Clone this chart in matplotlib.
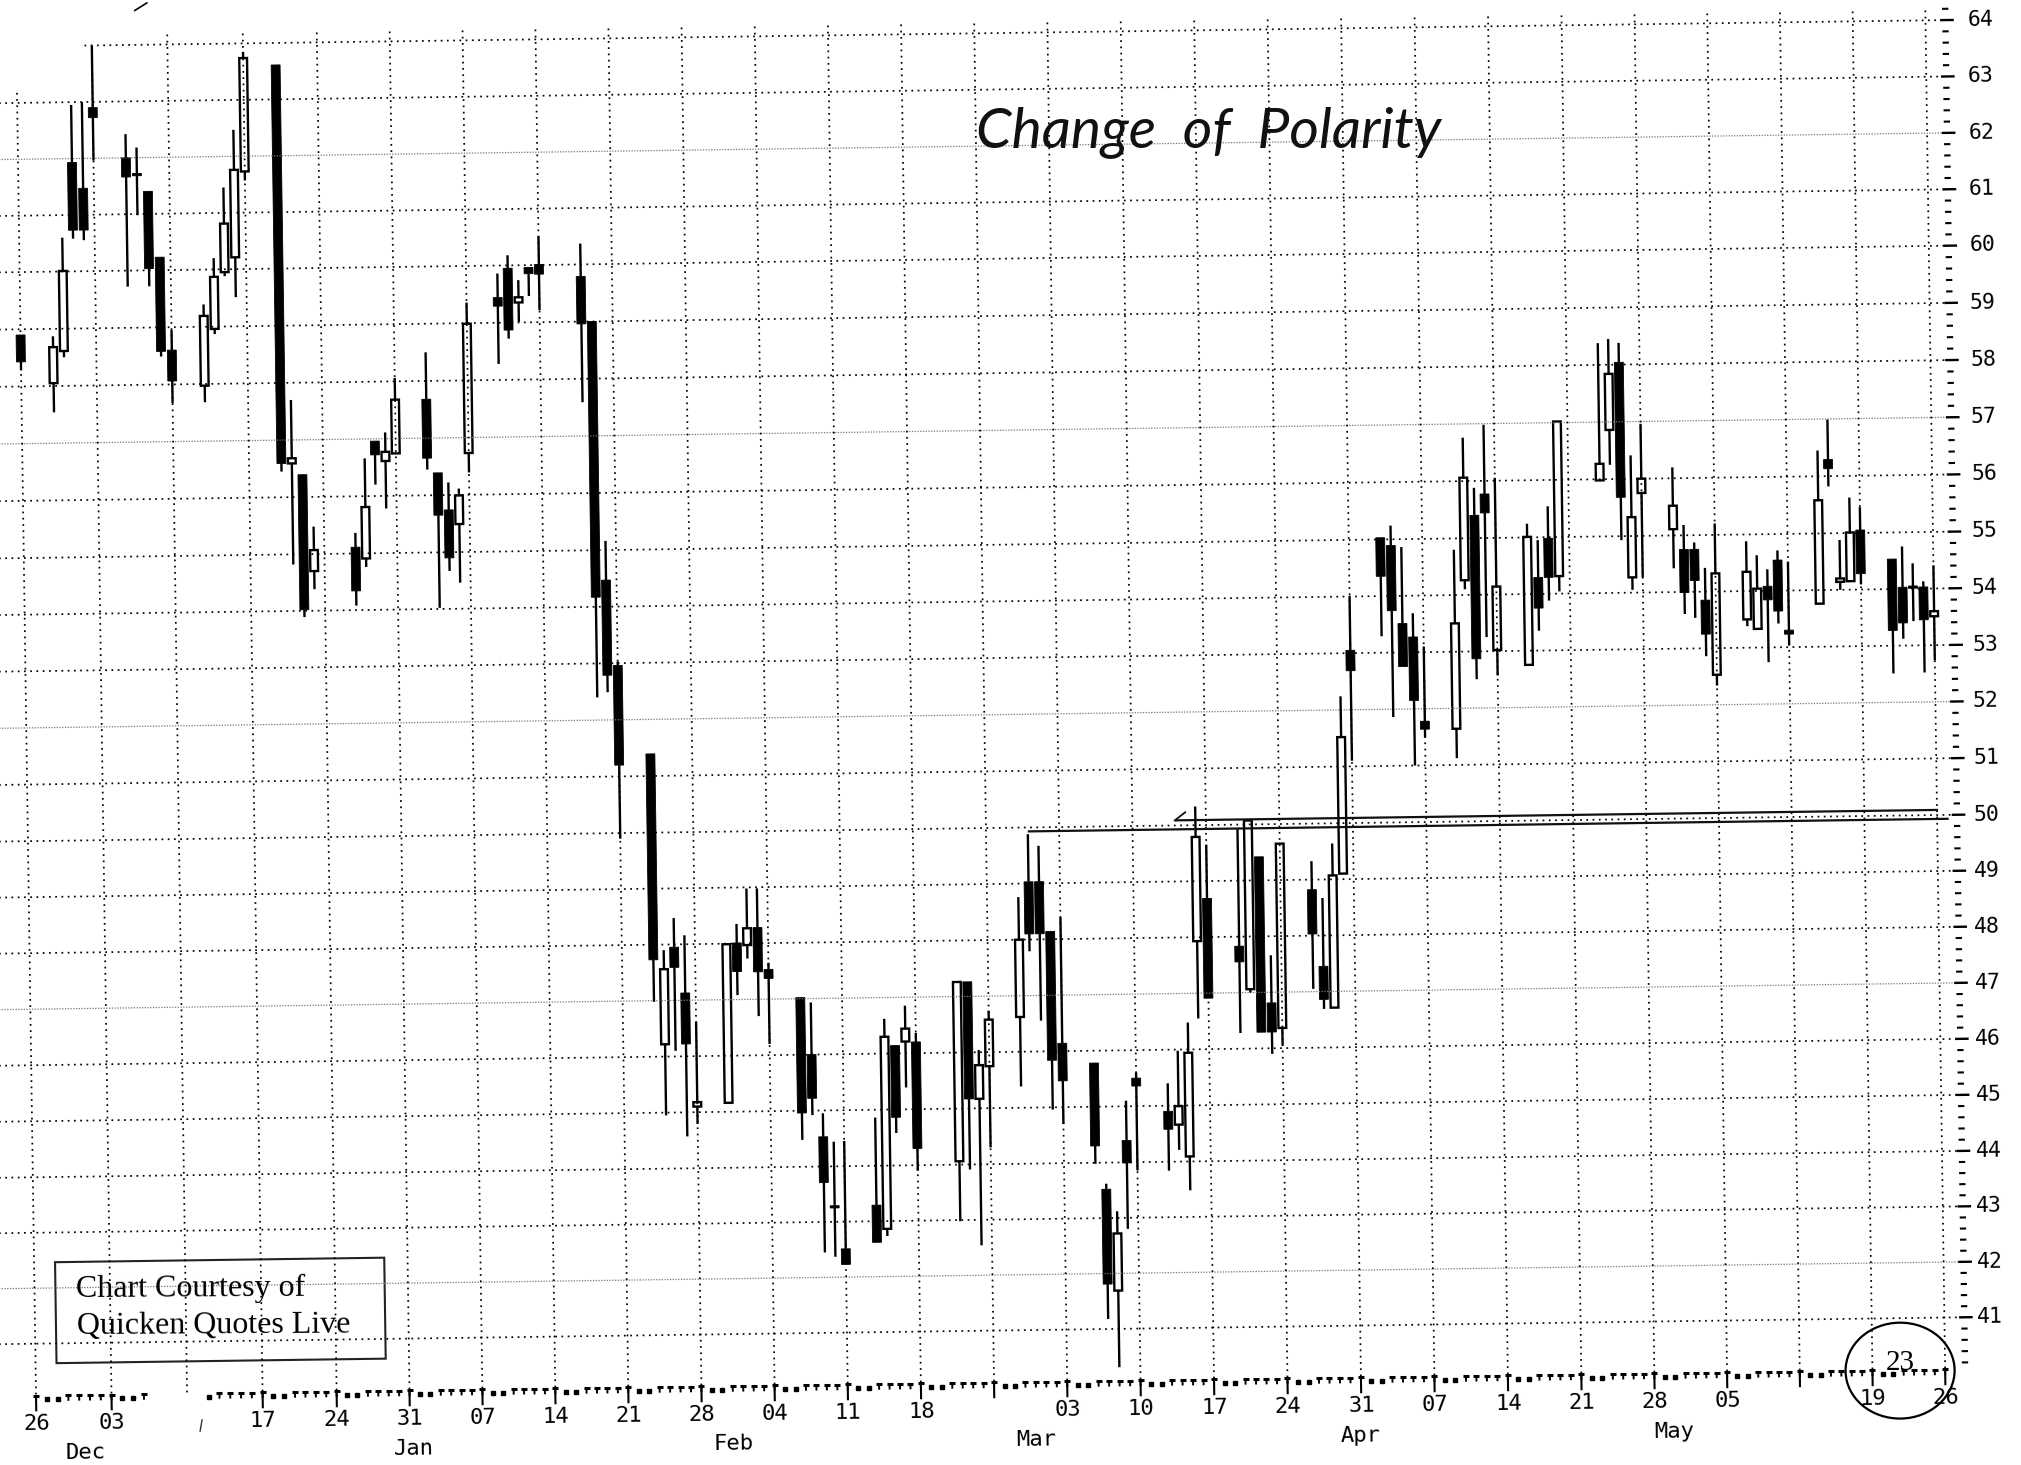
import matplotlib
matplotlib.use("Agg")
import matplotlib.pyplot as plt
import numpy as np
from matplotlib.patches import Rectangle, Ellipse
from matplotlib.transforms import Affine2D

# calendar day number counted from Fri 26 Nov, weekends and holidays left empty
days = [0, 3,4,5,6,7, 10,11,12,13,14, 17,18,19,20,21, 24,25,26,27, 31,32,33,34,35,
        38,39,40,41,42, 45,46,47,48,49, 53,54,55,56, 59,60,61,62,63, 66,67,68,69,70,
        73,74,75,76,77, 80,81,82,83,84, 88,89,90,91, 94,95,96,97,98, 101,102,103,104,105,
        108,109,110,111,112, 115,116,117,118,119, 122,123,124,125,126, 129,130,131,132,133,
        136,137,138,139,140, 143,144,145,146, 150,151,152,153,154, 157,158,159,160,161,
        164,165,166,167,168, 171,172,173,174,175, 178,179,180,181,182]
body_top = [58.90, 58.68,60.01,61.93,61.47,62.90, 62.00,61.72,61.40,60.23,58.60, 59.19,59.87,60.81,61.76,63.74,
            63.61,56.68,56.39,55.07, 55.11,55.81,56.96,56.77,57.68,
            57.68,56.39,55.74,55.99,58.99, 59.44,59.95,59.44,59.96,60.01, 59.79,59.00,54.47,52.96,
            51.39,47.56,47.95,47.13,45.18, 47.99,48.01,48.27,48.28,47.53,
            47.02,46.00,44.53,43.29,42.51, 43.29,46.30,46.14,46.44,46.20, 47.26,47.26,45.77,46.58,
            48.00,49.03,49.03,48.14,46.14, 45.78,43.52,42.72,44.39,45.50,
            44.90,44.99,45.94,49.79,48.69, 47.83,50.07,49.42,46.81,49.65,
            48.82,47.45,49.07,51.52,53.05, 55.03,54.89,53.51,53.27,51.78,
            53.50,56.06,55.40,55.77,54.14, 55.01,54.29,54.98,57.02,
            56.27,57.84,58.04,55.33,56.00, 55.52,54.75,54.75,53.85,54.32,
            54.34,54.04,54.08,54.54,53.30, 55.58,56.29,54.20,55.01,55.05,
            54.53,54.03,54.05,54.03,53.60]
body_bottom = [58.43, 58.05,58.61,60.73,60.73,62.72, 61.66,61.68,60.03,58.58,58.06, 57.97,58.96,59.95,60.21,61.73,
               56.59,56.59,54.02,54.70, 54.34,54.91,56.72,56.61,56.74,
               56.65,55.65,54.90,55.49,56.73, 59.29,58.87,59.35,59.85,59.84, 58.96,54.17,52.79,51.20,
               47.73,46.22,47.59,46.22,45.10, 45.16,47.50,47.97,47.49,47.37,
               44.96,45.22,43.71,43.25,42.23, 42.62,42.86,44.86,46.21,44.30, 44.06,45.17,45.17,45.75,
               46.62,48.10,48.10,45.84,45.47, 44.30,41.81,41.69,43.99,45.36,
               44.58,44.66,44.09,47.93,46.91, 47.55,47.06,46.29,46.29,46.36,
               48.03,46.86,46.71,49.10,52.69, 54.35,53.74,52.75,52.15,51.64,
               51.64,54.26,52.87,55.44,53.02, 52.75,53.75,54.29,54.31,
               55.98,56.86,55.68,54.27,55.75, 55.11,53.99,54.20,53.25,52.53,
               53.50,53.33,53.84,53.64,53.23, 53.76,56.13,54.14,54.15,54.28,
               53.27,53.40,54.01,53.45,53.51]
highs = [58.90, 58.87,60.60,62.95,63.00,64.00, 62.42,62.18,61.40,60.23,58.95, 59.39,60.20,61.45,62.47,63.85,
         63.61,57.70,56.39,55.48, 55.36,56.66,56.96,57.11,58.06,
         58.50,56.39,56.22,56.11,59.36, 59.86,60.18,59.74,59.96,60.51, 60.37,59.00,55.16,53.03,
         51.39,47.90,48.47,48.16,46.61, 47.99,48.35,48.98,48.98,47.65,
         47.02,46.93,44.95,44.44,44.45, 44.86,46.62,46.14,46.85,46.36, 47.26,47.26,46.04,46.74,
         48.76,49.88,49.67,48.14,48.39, 45.78,43.62,43.12,45.10,45.60,
         45.40,45.98,46.48,50.33,49.65, 49.92,50.07,49.42,47.66,49.65,
         49.33,48.67,49.64,52.24,54.00, 55.03,55.24,54.86,53.69,53.10,
         54.80,56.76,55.88,56.98,56.05, 55.24,54.95,55.54,57.02,
         58.38,58.45,58.38,56.41,56.96, 56.19,55.18,54.87,54.42,55.20,
         54.88,54.63,54.38,54.71,54.51, 56.45,56.99,54.88,55.62,55.45,
         54.53,54.75,54.45,54.13,54.41]
lows = [58.28, 57.54,58.50,60.58,60.55,61.96, 59.72,60.98,59.72,58.49,57.67, 57.68,58.87,59.88,59.51,61.57,
        56.45,54.82,53.89,54.38, 54.08,54.76,56.20,55.78,56.74,
        56.45,54.02,54.67,54.46,56.39, 58.28,58.72,59.01,59.46,59.21, 57.59,52.40,52.49,49.90,
        46.98,44.95,46.10,44.57,44.79, 45.16,47.08,47.73,46.70,46.20,
        44.48,44.92,42.45,42.37,42.23, 42.62,42.73,44.58,45.39,43.90, 42.98,43.91,42.54,44.30,
        45.38,47.79,46.55,44.96,44.70, 43.98,41.18,40.32,42.80,43.85,
        43.84,44.21,43.48,46.55,46.91, 46.28,47.00,46.29,45.90,46.05,
        47.05,46.69,46.71,49.10,51.10, 53.29,51.86,52.75,51.00,51.49,
        51.12,54.10,52.51,53.25,52.57, 52.75,53.35,53.88,54.04,
        55.98,56.25,54.93,54.05,54.27, 54.42,53.61,53.54,52.86,52.34,
        53.38,53.33,52.74,53.42,53.03, 53.76,55.82,54.00,54.15,54.09,
        52.51,53.12,53.43,52.52,52.73]
hollow_days = [3,4,17,18,19,20,21,25,27,32,34,35,41,42,47,60,63,66,68,81,83,88,90,91,94,
               103,109,110,111,116,119,124,125,136,137,140,143,146,150,151,153,154,157,161,
               164,165,171,173,174,182]

price_levels = list(range(41, 65))
light_levels = [42, 47, 52, 57, 62]
friday_days = list(range(0, 189, 7))
date_labels = ['26','03','','17','24','31','07','14','21','28','04','11','18','','03','10','17','24','31',
               '07','14','21','28','05','','19','26']
month_names = ['Dec','Jan','Feb','Mar','Apr','May']
month_days = [4.6, 36, 66.4, 95.3, 126.3, 156.2]
strip_gap = [11, 12, 13, 14, 15]
support_level = 49.93
resistance_level = 50.09

assert len(days)==len(body_top)==len(body_bottom)==len(highs)==len(lows)


# the scanned page is crooked and slightly bowed; these two follow the paper
def fx(d):
    return np.asarray(d, dtype=float) + np.interp(d, [0, 7, 24, 53, 100, 150, 182], [0, .2, .7, .5, .35, .4, .1])


def fp(p):
    return np.asarray(p, dtype=float) - np.interp(p, [41, 44, 50, 55, 60, 64], [0, .05, .09, .07, 0, 0])


fig = plt.figure(figsize=(20.21, 14.65), dpi=100, facecolor='white')
ax = fig.add_axes([0, 0, 1, 1])
ax.set_xlim(-36/10.484, (2021-36)/10.484)
ax.set_ylim((3656.1-1465)/56.4, 3656.1/56.4)
ax.set_autoscale_on(False)
ax.axis('off')
tr = Affine2D.from_values(1, 0.002546, -0.0785, 1, 3.148, 0) + ax.transData

dot = (0, (1, 2.6))
fine = (0, (1, 1.2))
for lv in price_levels:
    x0 = 6.5 if lv == 64 else -8
    if lv in light_levels:
        ax.hlines(fp(lv), x0, 183.6, colors='#777777', lw=0.9, linestyles=fine, transform=tr)
    else:
        ax.hlines(fp(lv), x0, 183.6, colors='black', lw=1.25, linestyles=dot, transform=tr)
for d in friday_days:
    top = 63.2 if d == 0 else (64.0 if d == 7 else 64.25)
    ax.vlines(fx(d), 40.1, fp(top), colors='black', lw=1.25, linestyles=dot, transform=tr)

# candles
wick_x, wick_lo, wick_hi = [], [], []
for d, t, b, h, l in zip(days, body_top, body_bottom, highs, lows):
    wick_x += [d, d]
    wick_lo += [t, l]
    wick_hi += [h, b]
ax.vlines(fx(wick_x), fp(wick_lo), fp(wick_hi), colors='black', lw=1.7, transform=tr)
for d, t, b in zip(days, body_top, body_bottom):
    lo, hi = fp(b), fp(t)
    if d in hollow_days:
        ax.bar(fx(d), hi-lo, bottom=lo, width=0.74, facecolor='none', edgecolor='black', lw=1.7, transform=tr)
    else:
        ax.bar(fx(d), hi-lo, bottom=lo, width=0.85, facecolor='black', edgecolor='black', lw=0.6, transform=tr)

# hand-ruled polarity lines
ax.hlines(fp(support_level), fx(95), 183.2, colors='#111111', lw=1.6, transform=tr)
ax.hlines(fp(resistance_level), 109.4, 182.2, colors='#111111', lw=1.6, transform=tr)
ax.plot([109.4, 110.4], fp([resistance_level, resistance_level+0.14]), color='#111111', lw=1.3, transform=tr)

# right-hand price scale
minor = [m/10 for m in range(402, 643, 2) if m % 10 != 0]
ax.hlines(fp(minor), 183.7, 184.3, colors='black', lw=1.5, transform=tr)
ax.hlines(fp(price_levels), 183.5, 184.8, colors='black', lw=1.7, transform=tr)
for lv in price_levels:
    ax.text(185.2 + 0.04*(lv-41), fp(lv), str(lv), family='DejaVu Sans Mono', fontsize=15.5, ha='left', va='center',
            rotation=0.8, rotation_mode='anchor', color='black', transform=tr)

# date strip
all_days = [d for d in range(0, 183) if d not in strip_gap]
week_days = [d for d in all_days if d % 7 not in (1, 2)]
weekend_days = [d for d in all_days if d % 7 in (1, 2)]
ax.vlines(fx(week_days), 39.98, 40.08, colors='black', lw=1.4, transform=tr)
ax.plot(fx(week_days), [40.08]*len(week_days), ls='none', marker='_', ms=5, mew=2.2, color='black', transform=tr)
ax.plot(fx(weekend_days), [40.02]*len(weekend_days), ls='none', marker='s', ms=2.2, color='black', transform=tr)
ax.vlines(fx([d for d in friday_days if d <= 182 and d not in strip_gap]), 39.8, 40.09, colors='black', lw=1.5, transform=tr)
for d, s in zip(friday_days, date_labels):
    if s:
        ax.text(fx(d), 39.58, s, family='DejaVu Sans Mono', fontsize=16, ha='center', va='center',
                rotation=0.8, rotation_mode='anchor', color='black', transform=tr)
for d, s in zip(month_days, month_names):
    ax.text(d, 39.05, s, family='DejaVu Sans Mono', fontsize=16, ha='center', va='center',
            rotation=0.8, rotation_mode='anchor', color='black', transform=tr)

# courtesy box
ax.add_patch(Rectangle((2, 40.65), 31.4, 1.79, facecolor='none', edgecolor='#222222', lw=1.5, transform=tr))
ax.text(4, 41.95, 'Chart Courtesy of', family='Liberation Serif', fontsize=23, ha='left', va='center',
        rotation=0.3, rotation_mode='anchor', color='black', transform=tr)
ax.text(4, 41.30, 'Quicken Quotes Live', family='Liberation Serif', fontsize=23, ha='left', va='center',
        rotation=0.3, rotation_mode='anchor', color='black', transform=tr)

# page number with pen circle
ax.add_patch(Ellipse((177.8, 40.07), 10.4, 1.70, facecolor='none', edgecolor='black', lw=1.6, transform=tr))
ax.text(177.8, 40.20, '23', family='Liberation Serif', fontsize=21, ha='center', va='center',
        color='black', transform=tr)

# pen notes
ax.text(113.6, 62.20, 'Change  of  Polarity', family='Lato', style='italic', fontsize=41,
        ha='center', va='center', color='#111111', transform=tr)
ax.plot([11.35, 12.5], [64.61, 64.74], color='black', lw=1.2, transform=tr)
ax.plot([15.6, 15.8], [39.41, 39.61], color='#333333', lw=1.0, transform=tr)

fig.savefig('out.png', dpi=100, facecolor='white')
